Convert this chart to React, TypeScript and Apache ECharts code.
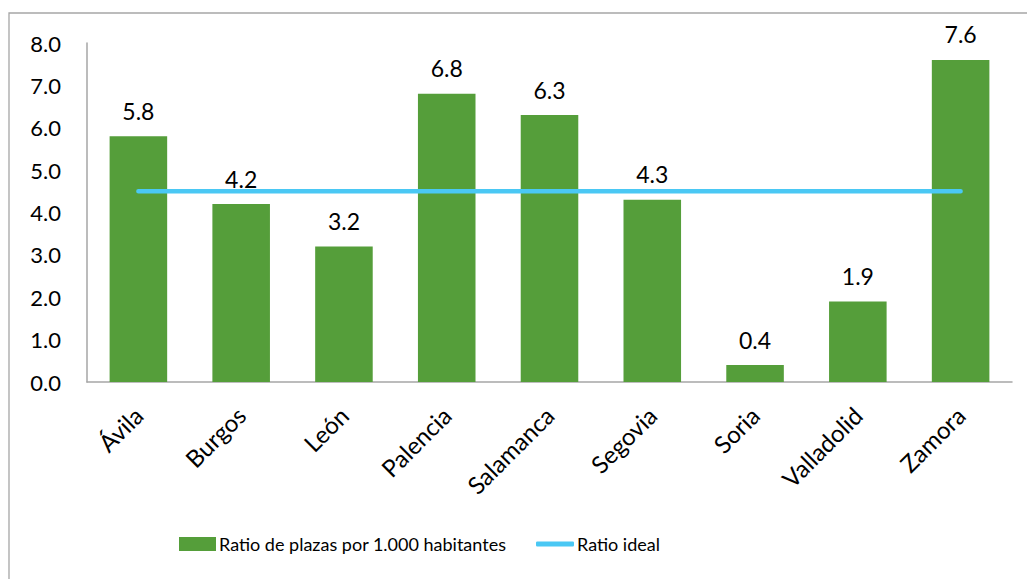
import React, { useEffect, useRef } from "react";
import * as echarts from "echarts";

const categories = ["Ávila", "Burgos", "León", "Palencia", "Salamanca", "Segovia", "Soria", "Valladolid", "Zamora"];
const ratioValues = [5.8, 4.2, 3.2, 6.8, 6.3, 4.3, 0.4, 1.9, 7.6];
const idealValues = [4.5, 4.5, 4.5, 4.5, 4.5, 4.5, 4.5, 4.5, 4.5];
const barName = "Ratio de plazas por 1.000 habitantes";
const lineName = "Ratio ideal";

const FONT = "Lato";

export default function App() {
  const ref = useRef<HTMLDivElement>(null);
  useEffect(() => {
    if (!ref.current) return;
    const chart = echarts.init(ref.current, undefined, { renderer: "svg" });
    chart.setOption({
      animation: false,
      backgroundColor: "#ffffff",
      textStyle: { fontFamily: FONT },
      graphic: [
        {
          type: "rect",
          shape: { x: 9, y: 13, width: 1030, height: 580 },
          style: { fill: "none", stroke: "#a6a6a6", lineWidth: 1.3 },
          silent: true,
        },
      ],
      grid: { left: 87, right: 15, top: 43, bottom: 197, containLabel: false },
      legend: [
        {
          bottom: 21,
          left: 174,
          itemWidth: 37,
          itemHeight: 14,
          textStyle: { fontFamily: FONT, fontSize: 18, color: "#000", padding: [0, 0, 0, -2] },
          data: [{ name: barName, icon: "rect" }],
        },
        {
          bottom: 21,
          left: 531,
          itemWidth: 38,
          itemHeight: 5,
          textStyle: { fontFamily: FONT, fontSize: 18, color: "#000", padding: [0, 0, 0, -2] },
          data: [{ name: lineName, icon: "roundRect" }],
        },
      ],
      xAxis: {
        type: "category",
        data: categories,
        axisLine: { show: true, lineStyle: { color: "#a6a6a6", width: 1.5 } },
        axisTick: { show: false },
        axisLabel: {
          rotate: 45,
          fontFamily: FONT,
          fontSize: 24,
          color: "#000",
          margin: 29,
          interval: 0,
        },
      },
      yAxis: {
        type: "value",
        min: 0,
        max: 8,
        interval: 1,
        splitLine: { show: false },
        axisLine: { show: true, lineStyle: { color: "#a6a6a6", width: 1.5 } },
        axisTick: { show: false },
        axisLabel: {
          formatter: (v: number) => v.toFixed(1),
          fontFamily: FONT,
          fontSize: 22,
          color: "#000",
          margin: 26,
        },
      },
      series: [
        {
          name: barName,
          type: "bar",
          data: ratioValues,
          barWidth: "56%",
          itemStyle: { color: "#559e3a" },
          label: {
            show: true,
            position: "top",
            distance: 14,
            fontFamily: FONT,
            fontSize: 23,
            color: "#000",
            formatter: (p: any) => Number(p.value).toFixed(1),
          },
          z: 2,
        },
        {
          name: lineName,
          type: "line",
          data: idealValues,
          symbol: "none",
          lineStyle: { color: "#4ac8f4", width: 4.5, cap: "round" },
          itemStyle: { color: "#4ac8f4" },
          z: 3,
        },
      ],
    });
    return () => chart.dispose();
  }, []);
  return <div ref={ref} style={{ position: "fixed", left: 0, top: 0, width: 1027, height: 579 }} />;
}
